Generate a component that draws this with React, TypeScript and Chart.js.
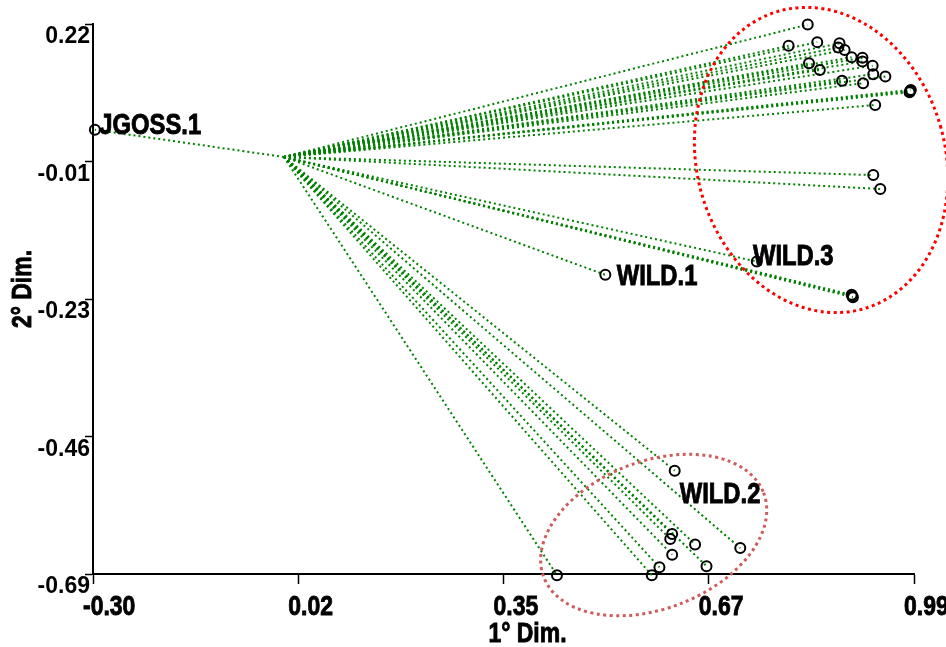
import { useEffect, useRef } from 'react';
import { Chart, registerables } from 'chart.js';

Chart.register(...registerables);

// Centre of the biplot: every accession is joined to it
const ORIGIN_X = 0;
const ORIGIN_Y = 0;

// Accession coordinates on the first two dimensions
const PT_X = [
  0.823, 0.793, 0.838, 0.873, 0.871, 0.881, 0.892, 0.909, 0.909, 0.925, 0.926, 0.945,
  0.825, 0.842, 0.877, 0.910, 0.984, 0.985, 0.983, 0.929, 0.926, 0.937,
  0.743, 0.893, 0.892, 0.894,
  0.505,
  -0.297,
  0.614, 0.610, 0.607, 0.646, 0.717, 0.610, 0.590, 0.664, 0.578, 0.429,
];
const PT_Y = [
  0.219, 0.184, 0.190, 0.188, 0.181, 0.177, 0.165, 0.164, 0.158, 0.151, 0.137, 0.133,
  0.155, 0.144, 0.126, 0.122, 0.109, 0.111, 0.107, 0.086, -0.030, -0.053,
  -0.173, -0.230, -0.228, -0.232,
  -0.195,
  0.045,
  -0.519, -0.624, -0.632, -0.641, -0.647, -0.658, -0.679, -0.677, -0.692, -0.692,
];

// Text labels (left edge, vertical middle) in data units
const LABEL_TEXT = ['JGOSS.1', 'WILD.1', 'WILD.2', 'WILD.3'];
const LABEL_X = [-0.290, 0.523, 0.622, 0.737];
const LABEL_Y = [0.051, -0.199, -0.560, -0.166];

// Axis ticks
const X_TICKS = [-0.30, 0.0225, 0.345, 0.6675, 0.99];
const X_TICK_LABELS = ['-0.30', '0.02', '0.35', '0.67', '0.99'];
const Y_TICKS = [-0.69, -0.4625, -0.235, -0.0075, 0.22];
const Y_TICK_LABELS = ['-0.69', '-0.46', '-0.23', '-0.01', '0.22'];

// Group ellipses: centre, radii (data units) and tilt in degrees
const ELL_CX = [0.844, 0.581];
const ELL_CY = [-0.005, -0.6255];
const ELL_RX = [0.195, 0.185];
const ELL_RY = [0.256, 0.122];
const ELL_ROT = [-16, -21];
const ELL_COLOR = ['#ff0000', '#cd5c5c'];

const SANS = "'Liberation Sans', Arial, sans-serif";
// condensed bold lettering is drawn as a horizontally squeezed sans
const SQUEEZE = 0.82;

function drawSqueezed(ctx: CanvasRenderingContext2D, text: string, x: number, y: number, align: CanvasTextAlign) {
  ctx.save();
  ctx.translate(x, y);
  ctx.scale(SQUEEZE, 1);
  ctx.textAlign = align;
  ctx.lineWidth = 0.9;
  ctx.strokeStyle = '#000';
  ctx.fillText(text, 0, 0);
  ctx.strokeText(text, 0, 0);
  ctx.restore();
}

const overlayPlugin = {
  id: 'biplotOverlay',
  afterDatasetsDraw(chart: any) {
    const { ctx, scales } = chart;
    const xs = scales.x;
    const ys = scales.y;
    ctx.save();
    for (let i = 0; i < ELL_CX.length; i++) {
      const cx = xs.getPixelForValue(ELL_CX[i]);
      const cy = ys.getPixelForValue(ELL_CY[i]);
      const rx = Math.abs(xs.getPixelForValue(ELL_CX[i] + ELL_RX[i]) - cx);
      const ry = Math.abs(ys.getPixelForValue(ELL_CY[i] + ELL_RY[i]) - cy);
      ctx.beginPath();
      ctx.ellipse(cx, cy, rx, ry, (ELL_ROT[i] * Math.PI) / 180, 0, Math.PI * 2);
      ctx.strokeStyle = ELL_COLOR[i];
      ctx.lineWidth = 3;
      ctx.setLineDash([3, 3.5]);
      ctx.stroke();
    }
    ctx.restore();
  },
  afterDraw(chart: any) {
    const { ctx, scales, chartArea } = chart;
    const xs = scales.x;
    const ys = scales.y;
    ctx.save();
    ctx.fillStyle = '#000';
    ctx.textBaseline = 'middle';

    // group / accession labels
    ctx.font = `bold 29px ${SANS}`;
    for (let i = 0; i < LABEL_TEXT.length; i++) {
      drawSqueezed(ctx, LABEL_TEXT[i], xs.getPixelForValue(LABEL_X[i]), ys.getPixelForValue(LABEL_Y[i]), 'left');
    }

    // x tick labels, placed from the scale's own ticks
    ctx.font = `bold 28px ${SANS}`;
    xs.ticks.forEach((t: any, i: number) => {
      drawSqueezed(ctx, X_TICK_LABELS[i], xs.getPixelForValue(t.value) - 10, chartArea.bottom + 33, 'left');
    });

    // axis titles
    drawSqueezed(ctx, '1° Dim.', (chartArea.left + chartArea.right) / 2 + 24, chartArea.bottom + 60, 'center');
    ctx.translate(23, (chartArea.top + chartArea.bottom) / 2 - 10);
    ctx.rotate(-Math.PI / 2);
    drawSqueezed(ctx, '2° Dim.', 0, 0, 'center');
    ctx.restore();
  },
};

export default function App() {
  const ref = useRef<HTMLCanvasElement | null>(null);

  useEffect(() => {
    if (!ref.current) return;
    const points = PT_X.map((x, i) => ({ x, y: PT_Y[i] }));
    const rays = points.map((p) => ({
      type: 'line' as const,
      data: [{ x: ORIGIN_X, y: ORIGIN_Y }, p],
      borderColor: 'rgb(0,128,0)',
      borderWidth: 2,
      borderDash: [2, 3],
      borderCapStyle: 'butt' as const,
      pointRadius: 0,
      fill: false,
      tension: 0,
      clip: false as const,
      order: 2,
    }));

    const chart = new Chart(ref.current, {
      type: 'scatter',
      data: {
        datasets: [
          {
            data: points,
            pointStyle: 'circle',
            pointRadius: 5,
            borderColor: '#000',
            borderWidth: 2,
            backgroundColor: 'rgba(0,0,0,0)',
            clip: false as const,
            order: 0,
          } as any,
          ...(rays as any[]),
        ],
      },
      options: {
        responsive: false,
        animation: false,
        events: [],
        layout: { padding: { left: 0, top: 24, right: 32, bottom: 0 } },
        plugins: { legend: { display: false }, tooltip: { enabled: false } },
        scales: {
          x: {
            type: 'linear',
            min: -0.30,
            max: 0.99,
            afterBuildTicks: (s: any) => {
              s.ticks = X_TICKS.map((v) => ({ value: v }));
            },
            afterFit: (s: any) => {
              s.height = 73;
              s.paddingLeft = 0;
              s.paddingRight = 0;
            },
            ticks: { display: false, autoSkip: false },
            grid: {
              display: true,
              drawOnChartArea: false,
              drawTicks: true,
              tickLength: 10,
              tickColor: '#000',
              tickWidth: 1.5,
            },
            border: { display: true, color: '#000', width: 2 },
          },
          y: {
            type: 'linear',
            min: -0.69,
            max: 0.22,
            afterBuildTicks: (s: any) => {
              s.ticks = Y_TICKS.map((v) => ({ value: v }));
            },
            afterFit: (s: any) => {
              s.width = 93;
              s.paddingTop = 0;
              s.paddingBottom = 0;
            },
            ticks: {
              callback: (_v: any, i: number) => Y_TICK_LABELS[i],
              labelOffset: 13,
              padding: -5,
              color: '#000',
              autoSkip: false,
              font: { family: SANS, size: 23, weight: 'bold' },
            },
            grid: {
              display: true,
              drawOnChartArea: false,
              drawTicks: true,
              tickLength: 8,
              tickColor: '#000',
              tickWidth: 1.5,
            },
            border: { display: true, color: '#000', width: 2 },
          },
        },
      },
      plugins: [overlayPlugin],
    } as any);

    return () => chart.destroy();
  }, []);

  return (
    <div style={{ position: 'fixed', left: 0, top: 0, width: 946, height: 647, background: '#fff' }}>
      <canvas ref={ref} width={946} height={647} style={{ display: 'block' }} />
    </div>
  );
}
